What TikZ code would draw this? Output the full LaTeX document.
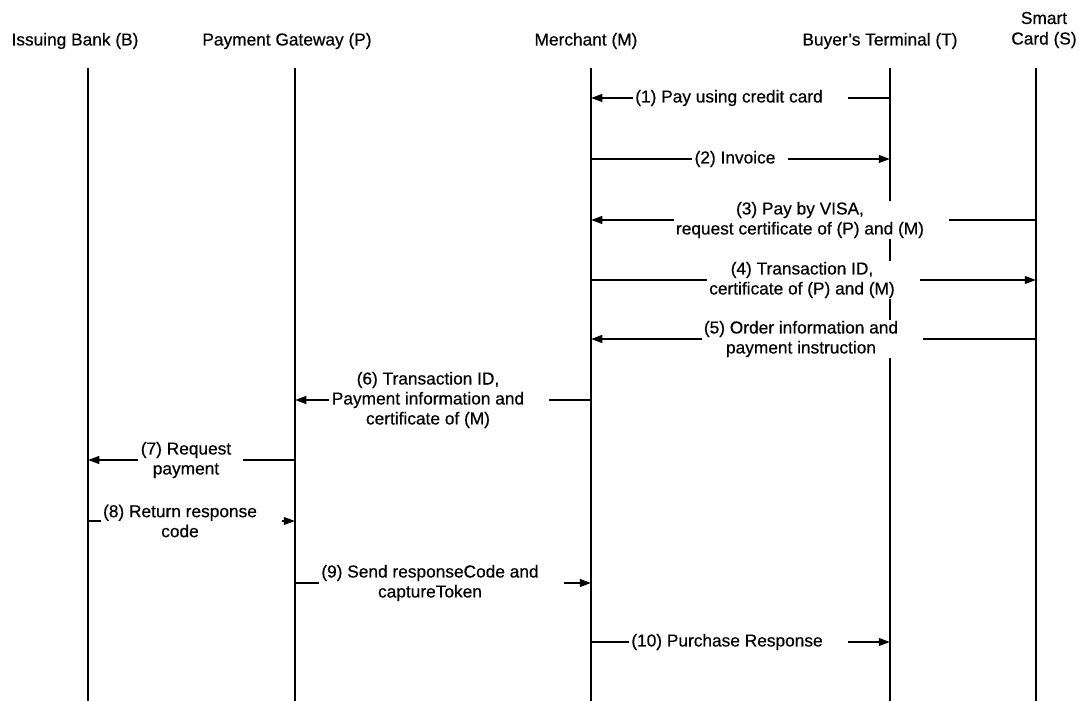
\documentclass[tikz,border=0pt]{standalone}
\usepackage{fontspec}
\setmainfont{Liberation Sans}[FakeBold=0.5]
\usetikzlibrary{arrows.meta}

\begin{document}
\begin{tikzpicture}[x=0.025cm, y=-0.025cm,
    actor/.style={font=\fontsize{12.3}{14.6}\selectfont, align=center, inner sep=0pt},
    lbl/.style={font=\fontsize{12.3}{14.2}\selectfont, align=center, fill=white, inner xsep=1.5pt, inner ysep=1pt},
    life/.style={line width=1.4pt},
    conn/.style={line width=1.4pt},
    msg/.style={line width=1.4pt, -{Triangle[length=8pt, width=5.5pt]}}]
    \useasboundingbox (0,0) rectangle (1079,701);

    % participants
    \node[actor] (bank) at (75,41) {Issuing Bank (B)};
    \node[actor] (gateway) at (287,41) {Payment Gateway (P)};
    \node[actor] (merchant) at (586,41) {Merchant (M)};
    \node[actor] (terminal) at (880,41) {Buyer's Terminal (T)};
    \node[actor] (card) at (1044,30) {Smart\\Card (S)};

    % lifelines
    \foreach \n/\x in {b/88, p/295, m/591, t/890, s/1036}
        \draw[life] (\x,68) coordinate (life\n) -- (\x,701);

    % messages
    \node[lbl] (m1) at (729,98) {(1) Pay using credit card};
    \draw[conn] (lifet |- m1) -- ([xshift=16pt]m1.east);
    \draw[msg] (m1.west) -- (lifem |- m1);

    \node[lbl] (m2) at (735,159) {(2) Invoice};
    \draw[conn] (lifem |- m2) -- (m2.west);
    \draw[msg] ([xshift=7pt]m2.east) -- (lifet |- m2);

    \node[lbl] (m3) at (800,220) {(3) Pay by VISA,\\request certificate of (P) and (M)};
    \draw[conn] (lifes |- m3) -- ([xshift=16pt]m3.east);
    \draw[msg] (m3.west) -- (lifem |- m3);

    \node[lbl] (m4) at (802,280) {(4) Transaction ID,\\certificate of (P) and (M)};
    \draw[conn] (lifem |- m4) -- (m4.west);
    \draw[msg] ([xshift=16pt]m4.east) -- (lifes |- m4);

    \node[lbl] (m5) at (801,339) {(5) Order information and\\payment instruction};
    \draw[conn] (lifes |- m5) -- ([xshift=16pt]m5.east);
    \draw[msg] (m5.west) -- (lifem |- m5);

    \node[lbl] (m6) at (428,400) {(6) Transaction ID,\\Payment information and\\certificate of (M)};
    \draw[conn] (lifem |- m6) -- ([xshift=16pt]m6.east);
    \draw[msg] (m6.west) -- (lifep |- m6);

    \node[lbl] (m7) at (186,460) {(7) Request\\payment};
    \draw[conn] (lifep |- m7) -- ([xshift=7pt]m7.east);
    \draw[msg] (m7.west) -- (lifeb |- m7);

    \node[lbl] (m8) at (180,521) {(8) Return response\\code};
    \draw[conn] (lifeb |- m8) -- (m8.west);
    \draw[msg] ([xshift=16pt]m8.east) -- (lifep |- m8);

    \node[lbl] (m9) at (430,583) {(9) Send responseCode and\\captureToken};
    \draw[conn] (lifep |- m9) -- (m9.west);
    \draw[msg] ([xshift=16pt]m9.east) -- (lifem |- m9);

    \node[lbl] (m10) at (727,642) {(10) Purchase Response};
    \draw[conn] (lifem |- m10) -- (m10.west);
    \draw[msg] ([xshift=16pt]m10.east) -- (lifet |- m10);
\end{tikzpicture}
\end{document}
